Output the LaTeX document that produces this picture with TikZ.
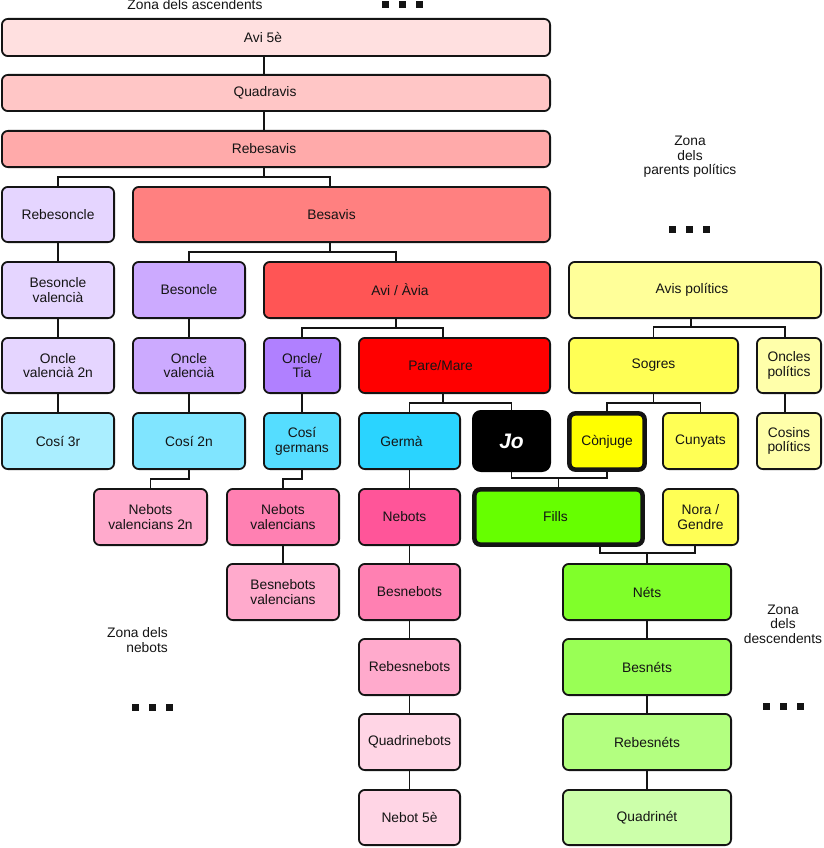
\documentclass[tikz,border=0pt]{standalone}
\usepackage{fontspec}
\setmainfont{Liberation Sans}
\usetikzlibrary{calc}
\definecolor{cAvi5}{HTML}{FFE0E0}
\definecolor{cQuad}{HTML}{FFC6C6}
\definecolor{cRebes}{HTML}{FFAAAA}
\definecolor{cBesavis}{HTML}{FF8080}
\definecolor{cAvia}{HTML}{FF5555}
\definecolor{cRed}{HTML}{FF0000}
\definecolor{cLav1}{HTML}{E5D5FF}
\definecolor{cLav2}{HTML}{CCAAFF}
\definecolor{cLav3}{HTML}{B080FF}
\definecolor{cCy1}{HTML}{AAEEFF}
\definecolor{cCy2}{HTML}{80E5FF}
\definecolor{cCy3}{HTML}{55DDFF}
\definecolor{cCy4}{HTML}{2AD4FF}
\definecolor{cPk1}{HTML}{FFAACC}
\definecolor{cPk2}{HTML}{FF80B2}
\definecolor{cPk3}{HTML}{FF5599}
\definecolor{cPk4}{HTML}{FFD5E5}
\definecolor{cG0}{HTML}{66FF00}
\definecolor{cG1}{HTML}{80FF2A}
\definecolor{cG2}{HTML}{99FF55}
\definecolor{cG3}{HTML}{B3FF80}
\definecolor{cG4}{HTML}{CCFFAA}
\definecolor{cY0}{HTML}{FFFF00}
\definecolor{cY1}{HTML}{FFFF99}
\definecolor{cY2}{HTML}{FFFF55}
\definecolor{cY3}{HTML}{FFFFAA}
\definecolor{ink}{HTML}{141414}
\newcommand{\famnode}[7]{\node[box,#6,minimum width={(#4-#2-1.8)*1pt},minimum height={(#5-#3-1.8)*1pt}] (#1) at ({(#2+#4)/2},{(#3+#5)/2}) {#7};}
\newcommand{\shl}[2]{\makebox[0pt]{\kern#1\relax #2}}
\newcommand{\threedots}[2]{\foreach \i in {0,1,2} {\fill[ink] ({#1+17*\i},#2) rectangle ++(6.5,6.5);}}
\begin{document}
\begin{tikzpicture}[x=1pt,y=-1pt,
  box/.style={draw=ink, line width=1.8pt, rounded corners=6pt, align=center, inner sep=0pt,
    font=\fontsize{13.8}{14.8}\selectfont, text=ink},
  thick box/.style={line width=4.5pt},
  jo box/.style={fill=black, draw=black, text=white, rounded corners=8pt, font=\fontsize{21}{21}\selectfont\bfseries\itshape},
  conn/.style={draw=ink, line width=1.6pt, line join=miter},
  zone/.style={font=\fontsize{13.8}{14.5}\selectfont, text=ink, inner sep=0pt}]
\useasboundingbox (0,0) rectangle (823,848);

% zone labels
\node[zone, anchor=base] (zasc) at (195,9.5) {Zona dels ascendents};
\node[zone, align=center] (zpol) at (690,157) {Zona\\dels\\parents polítics};
\node[zone, align=right, anchor=east] (zneb) at (168,640) {Zona dels\\nebots};
\node[zone, align=center] (zdesc) at (783,624) {Zona\\dels\\descendents};
\threedots{382}{1.5}
\threedots{669}{226}
\threedots{132}{704}
\threedots{763}{703}

% ascendants
\famnode{avi5}{1}{18}{551}{57}{fill=cAvi5}{\shl{-26pt}{Avi 5è}}
\famnode{quad}{1}{74}{551}{112}{fill=cQuad}{\shl{-22pt}{Quadravis}}
\famnode{rebes}{1}{130}{551}{168}{fill=cRebes}{\shl{-24pt}{Rebesavis}}
\famnode{rebesoncle}{1}{186}{115}{243}{fill=cLav1}{Rebesoncle}
\famnode{besavis}{132}{186}{551}{243}{fill=cBesavis}{\shl{-20pt}{Besavis}}
\famnode{besoncleval}{1}{261}{115}{319}{fill=cLav1}{Besoncle\\valencià}
\famnode{besoncle}{132}{261}{246}{319}{fill=cLav2}{Besoncle}
\famnode{avia}{263}{261}{551}{319}{fill=cAvia}{\shl{-14pt}{Avi / Àvia}}
\famnode{avispol}{568}{261}{822}{319}{fill=cY1}{\shl{-6pt}{Avis polítics}}
\famnode{oncleval2}{1}{337}{115}{394}{fill=cLav1}{Oncle\\valencià 2n}
\famnode{oncleval}{132}{337}{246}{394}{fill=cLav2}{Oncle\\valencià}
\famnode{oncletia}{263}{337}{341}{394}{fill=cLav3}{Oncle/\\Tia}
\famnode{pare}{358}{337}{551}{394}{fill=cRed}{\shl{-28pt}{Pare/Mare}}
\famnode{sogres}{568}{337}{739}{394}{fill=cY2}{Sogres}
\famnode{onclespol}{756}{337}{822}{394}{fill=cY3}{Oncles\\polítics}
\famnode{cosi3}{1}{412}{115}{470}{fill=cCy1}{Cosí 3r}
\famnode{cosi2}{132}{412}{246}{470}{fill=cCy2}{Cosí 2n}
\famnode{cosig}{263}{412}{341}{470}{fill=cCy3}{Cosí\\germans}
\famnode{germa}{358}{412}{461}{470}{fill=cCy4}{\shl{-16pt}{Germà}}
\famnode{jo}{472}{410}{551}{472}{jo box}{Jo}
\famnode{conjuge}{568.5}{412.5}{645.5}{470.5}{fill=cY0, thick box}{Cònjuge}
\famnode{cunyats}{662}{412}{739}{470}{fill=cY2}{Cunyats}
\famnode{cosinspol}{756}{412}{822}{470}{fill=cY3}{Cosins\\polítics}
% descendants / nephews
\famnode{nebval2}{93}{488}{208}{546}{fill=cPk1}{Nebots\\valencians 2n}
\famnode{nebval}{226}{488}{340}{546}{fill=cPk2}{Nebots\\valencians}
\famnode{nebots}{358}{488}{461}{546}{fill=cPk3}{\shl{-10pt}{Nebots}}
\famnode{fills}{473.5}{488.5}{643.5}{545.5}{fill=cG0, thick box}{\shl{-6pt}{Fills}}
\famnode{nora}{662}{488}{739}{546}{fill=cY2}{Nora /\\Gendre}
\famnode{besnebval}{226}{563}{340}{621}{fill=cPk1}{Besnebots\\valencians}
\famnode{besnebots}{358}{563}{461}{621}{fill=cPk2}{Besnebots}
\famnode{nets}{562}{563}{732}{621}{fill=cG1}{Néts}
\famnode{rebesnebots}{358}{638}{461}{696}{fill=cPk1}{Rebesnebots}
\famnode{besnets}{562}{638}{732}{696}{fill=cG2}{Besnéts}
\famnode{quadrinebots}{358}{713}{461}{771}{fill=cPk4}{Quadrinebots}
\famnode{rebesnets}{562}{713}{732}{771}{fill=cG3}{Rebesnéts}
\famnode{nebot5}{358}{789}{461}{846}{fill=cPk4}{Nebot 5è}
\famnode{quadrinet}{562}{789}{732}{846}{fill=cG4}{Quadrinét}

% helper coordinates
\coordinate (cA) at (264,0);
\coordinate (b1) at (264,177);
\coordinate (c330) at (330,0);
\coordinate (b2) at (330,252);
\coordinate (c396) at (396,0);
\coordinate (b3) at (396,328);
\coordinate (c443) at (443,0);
\coordinate (b4) at (443,403);
\coordinate (b5) at (189,479);
\coordinate (b6) at (302,479);
\coordinate (b7) at (558.5,478);
\coordinate (c600) at (600,0);
\coordinate (c695) at (695,0);
\coordinate (b8) at (647,553);
\coordinate (b9) at (691,327);
\coordinate (c785) at (785,0);
\coordinate (b10) at (653.5,403);

% connectors
\draw[conn] (avi5.south -| cA) -- (quad.north -| cA);
\draw[conn] (quad.south -| cA) -- (rebes.north -| cA);
\draw[conn] (rebes.south -| b1) -- (b1);
\draw[conn] (rebesoncle.north) |- (b1) -| (besavis.north -| c330);
\draw[conn] (besavis.south -| b2) -- (b2);
\draw[conn] (besoncle.north) |- (b2) -| (avia.north -| c396);
\draw[conn] (avia.south -| b3) -- (b3);
\draw[conn] (oncletia.north) |- (b3) -| (pare.north -| c443);
\draw[conn] (pare.south -| b4) -- (b4);
\draw[conn] (germa.north) |- (b4) -| (jo.north);

\draw[conn] (rebesoncle.south) -- (besoncleval.north);
\draw[conn] (besoncleval.south) -- (oncleval2.north);
\draw[conn] (oncleval2.south) -- (cosi3.north);
\draw[conn] (besoncle.south) -- (oncleval.north);
\draw[conn] (oncleval.south) -- (cosi2.north);
\draw[conn] (cosi2.south) -- (b5) -| (nebval2.north);
\draw[conn] (oncletia.south) -- (cosig.north);
\draw[conn] (cosig.south) -- (b6) -| (nebval.north);
\draw[conn] (nebval.south) -- (besnebval.north);

\draw[conn] (germa.south) -- (nebots.north);
\draw[conn] (nebots.south) -- (besnebots.north);
\draw[conn] (besnebots.south) -- (rebesnebots.north);
\draw[conn] (rebesnebots.south) -- (quadrinebots.north);
\draw[conn] (quadrinebots.south) -- (nebot5.north);

\draw[conn] (jo.south) |- (b7) -| (conjuge.south);
\draw[conn] (b7) -- (fills.north);
\draw[conn] (fills.south -| c600) |- (b8) -| (nora.south -| c695);
\draw[conn] (b8) -- (nets.north);
\draw[conn] (nets.south) -- (besnets.north);
\draw[conn] (besnets.south) -- (rebesnets.north);
\draw[conn] (rebesnets.south) -- (quadrinet.north);

\draw[conn] (avispol.south -| b9) -- (b9);
\draw[conn] (sogres.north) |- (b9) -| (onclespol.north -| c785);
\draw[conn] (sogres.south -| b10) -- (b10);
\draw[conn] (conjuge.north) |- (b10) -| (cunyats.north);
\draw[conn] (onclespol.south -| c785) -- (cosinspol.north -| c785);
\end{tikzpicture}
\end{document}
